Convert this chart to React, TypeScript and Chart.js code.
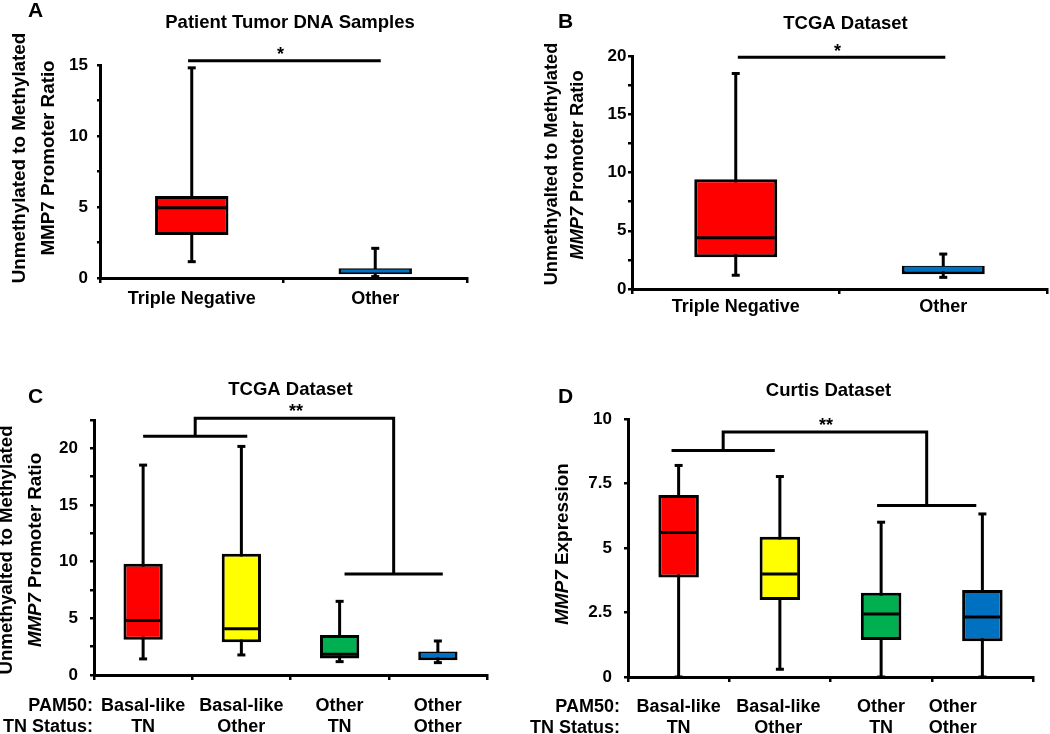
import React, { useEffect, useRef } from "react";
import { Chart, registerables } from "chart.js";
Chart.register(...registerables);

const FONT = "'Liberation Sans', Arial, Helvetica, sans-serif";

// ---------- Panel A: Patient Tumor DNA Samples ----------
const aCategories = ["Triple Negative", "Other"];
const aMin = [1.15, 0.1];
const aQ1 = [3.03, 0.26];
const aMedian = [4.95, 0.5];
const aQ3 = [5.77, 0.68];
const aMax = [14.8, 2.09];
const aYTickLabels = [0, 5, 10, 15];
const aSigSpan = [-0.02, 1.03];
const aSigLevel = 15.3;

// ---------- Panel B: TCGA Dataset ----------
const bCategories = ["Triple Negative", "Other"];
const bMin = [1.18, 1.0];
const bQ1 = [2.72, 1.26];
const bMedian = [4.4, 1.78];
const bQ3 = [9.42, 2.0];
const bMax = [18.5, 3.0];
const bYTickLabels = [0, 5, 10, 15, 20];
const bSigSpan = [0.01, 1.01];
const bSigLevel = 19.9;

// ---------- Panel C: TCGA Dataset (PAM50 x TN) ----------
const cPam50 = ["Basal-like", "Basal-like", "Other", "Other"];
const cTnStatus = ["TN", "Other", "TN", "Other"];
const cMin = [1.42, 1.77, 1.18, 1.09];
const cQ1 = [3.1, 2.9, 1.45, 1.3];
const cMedian = [4.81, 4.08, 1.83, 1.8];
const cQ3 = [9.81, 10.7, 3.54, 2.07];
const cMax = [18.52, 20.17, 6.5, 3.0];
const cYTickLabels = [0, 5, 10, 15, 20];
const cLeftSpan = [0, 1.06];
const cRightSpan = [2.05, 3.05];
const cBracketLevels = [21.06, 22.65, 8.92]; // left group, top, right group

// ---------- Panel D: Curtis Dataset ----------
const dPam50 = ["Basal-like", "Basal-like", "Other", "Other"];
const dTnStatus = ["TN", "Other", "TN", "Other"];
const dMin = [0, 0.3, 0, 0];
const dQ1 = [3.86, 2.98, 1.43, 1.39];
const dMedian = [5.6, 3.99, 2.44, 2.33];
const dQ3 = [7.05, 5.44, 3.27, 3.37];
const dMax = [8.2, 7.77, 6.0, 6.32];
const dYTickLabels = [0, 2.5, 5, 7.5, 10];
const dLeftSpan = [-0.07, 0.95];
const dRightSpan = [1.96, 2.94];
const dBracketLevels = [8.78, 9.5, 6.65];

// ---------- styles ----------
const RED = "#FF0000";
const YELLOW = "#FFFF00";
const GREEN = "#00B050";
const BLUE = "#0070C0";
const BLACK = "#000000";
const LW = 3;

type Seg = { t: string; i?: boolean };

interface PanelCfg {
  origin: [number, number];
  area: { left: number; right: number; top: number; bottom: number };
  letter: string;
  letterPos: [number, number];
  title: string;
  titlePos: [number, number];
  yTitle: { segs: Seg[]; x: number; y: number }[];
  yTitleSize: number;
  labels: string[];
  min: number[];
  q1: number[];
  med: number[];
  q3: number[];
  max: number[];
  fill: string[];
  medColor: string[];
  yMax: number;
  yStep: number;
  yLabelled: number[];
  yTickLen: number;
  yTickPad: number;
  xTickPad: number;
  xHeight: number;
  customX?: {
    rows: string[][];
    heads: string[];
    headRight: number;
    baselines: number[];
    shift: number[];
  };
  sig?: { span: number[]; level: number };
  bracket?: { left: number[]; right: number[]; levels: number[] };
}

const W = 525;
const H = 367;

const panels: PanelCfg[] = [
  {
    origin: [0, 0],
    area: { left: 100, right: 467, top: 65, bottom: 278 },
    letter: "A",
    letterPos: [28, 17],
    title: "Patient Tumor DNA Samples",
    titlePos: [290, 28],
    yTitle: [
      { segs: [{ t: "Unmethylated to Methylated" }], x: 20, y: 158 },
      { segs: [{ t: "MMP7 Promoter Ratio" }], x: 49, y: 158 },
    ],
    yTitleSize: 18.8,
    labels: aCategories,
    min: aMin,
    q1: aQ1,
    med: aMedian,
    q3: aQ3,
    max: aMax,
    fill: [RED, BLUE],
    medColor: [BLACK, BLUE],
    yMax: 15,
    yStep: 2.5,
    yLabelled: aYTickLabels,
    yTickLen: 3,
    yTickPad: 9,
    xTickPad: 5.5,
    xHeight: 60,
    sig: { span: aSigSpan, level: aSigLevel },
  },
  {
    origin: [525, 0],
    area: { left: 107, right: 522, top: 56, bottom: 289 },
    letter: "B",
    letterPos: [33, 28],
    title: "TCGA Dataset",
    titlePos: [320.5, 29],
    yTitle: [
      { segs: [{ t: "Unmethyalted to Methylated" }], x: 27, y: 164 },
      { segs: [{ t: "MMP7", i: true }, { t: " Promoter Ratio" }], x: 53, y: 165 },
    ],
    yTitleSize: 18.2,
    labels: bCategories,
    min: bMin,
    q1: bQ1,
    med: bMedian,
    q3: bQ3,
    max: bMax,
    fill: [RED, BLUE],
    medColor: [BLACK, BLUE],
    yMax: 20,
    yStep: 2.5,
    yLabelled: bYTickLabels,
    yTickLen: 4,
    yTickPad: 1.5,
    xTickPad: 2,
    xHeight: 60,
    sig: { span: bSigSpan, level: bSigLevel },
  },
  {
    origin: [0, 367],
    area: { left: 94, right: 487, top: 53, bottom: 308 },
    letter: "C",
    letterPos: [28, 36],
    title: "TCGA Dataset",
    titlePos: [290.5, 28],
    yTitle: [
      { segs: [{ t: "Unmethyalted to Methylated" }], x: 7, y: 183 },
      { segs: [{ t: "MMP7", i: true }, { t: " Promoter Ratio" }], x: 35.5, y: 183 },
    ],
    yTitleSize: 18.7,
    labels: cPam50.map((p, i) => p + " " + cTnStatus[i]),
    min: cMin,
    q1: cQ1,
    med: cMedian,
    q3: cQ3,
    max: cMax,
    fill: [RED, YELLOW, GREEN, BLUE],
    medColor: [BLACK, BLACK, BLACK, BLUE],
    yMax: 22.5,
    yStep: 2.5,
    yLabelled: cYTickLabels,
    yTickLen: 4,
    yTickPad: 12,
    xTickPad: 2,
    xHeight: 40,
    customX: {
      rows: [cPam50, cTnStatus],
      heads: ["PAM50:", "TN Status:"],
      headRight: 93,
      baselines: [344, 365],
      shift: [0, 0, 0, 0],
    },
    bracket: { left: cLeftSpan, right: cRightSpan, levels: cBracketLevels },
  },
  {
    origin: [525, 367],
    area: { left: 103, right: 508, top: 52, bottom: 310 },
    letter: "D",
    letterPos: [33, 36],
    title: "Curtis Dataset",
    titlePos: [303.5, 28.5],
    yTitle: [{ segs: [{ t: "MMP7", i: true }, { t: " Expression" }], x: 37.5, y: 177 }],
    yTitleSize: 18.9,
    labels: dPam50.map((p, i) => p + " " + dTnStatus[i]),
    min: dMin,
    q1: dQ1,
    med: dMedian,
    q3: dQ3,
    max: dMax,
    fill: [RED, YELLOW, GREEN, BLUE],
    medColor: [BLACK, BLACK, BLACK, BLACK],
    yMax: 10,
    yStep: 2.5,
    yLabelled: dYTickLabels,
    yTickLen: 4,
    yTickPad: 12,
    xTickPad: 2,
    xHeight: 40,
    customX: {
      rows: [dPam50, dTnStatus],
      heads: ["PAM50:", "TN Status:"],
      headRight: 95,
      baselines: [345, 366],
      shift: [0, -1.5, 0, -29.5],
    },
    bracket: { left: dLeftSpan, right: dRightSpan, levels: dBracketLevels },
  },
];

function fontStr(size: number, italic?: boolean) {
  return `${italic ? "italic " : ""}bold ${size}px ${FONT}`;
}

function drawSegs(ctx: CanvasRenderingContext2D, segs: Seg[], cx: number, cy: number, size: number, rotate: boolean) {
  ctx.save();
  ctx.translate(cx, cy);
  if (rotate) ctx.rotate(-Math.PI / 2);
  let total = 0;
  const widths = segs.map((s) => {
    ctx.font = fontStr(size, s.i);
    const w = ctx.measureText(s.t).width;
    total += w;
    return w;
  });
  let x = -total / 2;
  ctx.textBaseline = "middle";
  ctx.textAlign = "left";
  ctx.fillStyle = BLACK;
  segs.forEach((s, i) => {
    ctx.font = fontStr(size, s.i);
    ctx.fillText(s.t, x, 0);
    x += widths[i];
  });
  ctx.restore();
}

function line(ctx: CanvasRenderingContext2D, x1: number, y1: number, x2: number, y2: number) {
  ctx.beginPath();
  ctx.moveTo(x1, y1);
  ctx.lineTo(x2, y2);
  ctx.stroke();
}

function makePlugin(cfg: PanelCfg) {
  return {
    id: "boxDecor",
    beforeDatasetsDraw(chart: any) {
      const ctx: CanvasRenderingContext2D = chart.ctx;
      const xs = chart.scales.x;
      const ys = chart.scales.y;
      ctx.save();
      ctx.strokeStyle = BLACK;
      cfg.labels.forEach((_, i) => {
        const px = xs.getPixelForValue(i);
        const yTop = ys.getPixelForValue(cfg.max[i]);
        const yBot = ys.getPixelForValue(cfg.min[i]);
        ctx.lineWidth = LW;
        line(ctx, px, yTop, px, yBot);
        ctx.lineWidth = 3;
        line(ctx, px - 4, yTop, px + 4, yTop);
        line(ctx, px - 4, yBot, px + 4, yBot);
      });
      ctx.restore();
    },
    afterDatasetsDraw(chart: any) {
      const ctx: CanvasRenderingContext2D = chart.ctx;
      const ys = chart.scales.y;
      const meta = chart.getDatasetMeta(0);
      ctx.save();
      ctx.lineWidth = LW;
      meta.data.forEach((el: any, i: number) => {
        const py = ys.getPixelForValue(cfg.med[i]);
        ctx.strokeStyle = cfg.medColor[i];
        line(ctx, el.x - el.width / 2 + 2.5, py, el.x + el.width / 2 - 2.5, py);
      });
      ctx.restore();
    },
    afterDraw(chart: any) {
      const ctx: CanvasRenderingContext2D = chart.ctx;
      const xs = chart.scales.x;
      const ys = chart.scales.y;
      ctx.save();
      ctx.fillStyle = BLACK;
      ctx.strokeStyle = BLACK;
      // panel letter
      ctx.font = fontStr(21);
      ctx.textAlign = "left";
      ctx.textBaseline = "alphabetic";
      ctx.fillText(cfg.letter, cfg.letterPos[0], cfg.letterPos[1]);
      // title
      ctx.font = fontStr(18.5);
      ctx.textAlign = "center";
      ctx.fillText(cfg.title, cfg.titlePos[0], cfg.titlePos[1]);
      // y titles
      cfg.yTitle.forEach((l) => drawSegs(ctx, l.segs, l.x, l.y, cfg.yTitleSize, true));
      // custom x labels
      if (cfg.customX) {
        const cx = cfg.customX;
        ctx.font = fontStr(18);
        ctx.textBaseline = "alphabetic";
        cx.heads.forEach((h, r) => {
          ctx.textAlign = "right";
          ctx.fillText(h, cx.headRight, cx.baselines[r]);
        });
        cx.rows.forEach((row, r) => {
          row.forEach((txt, i) => {
            ctx.textAlign = "center";
            ctx.fillText(txt, xs.getPixelForValue(i) + cx.shift[i], cx.baselines[r]);
          });
        });
      }
      ctx.lineWidth = LW;
      ctx.lineCap = "butt";
      ctx.font = fontStr(18);
      ctx.textAlign = "center";
      ctx.textBaseline = "alphabetic";
      if (cfg.sig) {
        const py = ys.getPixelForValue(cfg.sig.level);
        const x1 = xs.getPixelForValue(cfg.sig.span[0]);
        const x2 = xs.getPixelForValue(cfg.sig.span[1]);
        line(ctx, x1, py, x2, py);
        ctx.fillText("*", (x1 + x2) / 2 - 4, py - 0.5);
      }
      if (cfg.bracket) {
        const b = cfg.bracket;
        const yl = ys.getPixelForValue(b.levels[0]);
        const yt = ys.getPixelForValue(b.levels[1]);
        const yr = ys.getPixelForValue(b.levels[2]);
        const l1 = xs.getPixelForValue(b.left[0]);
        const l2 = xs.getPixelForValue(b.left[1]);
        const r1 = xs.getPixelForValue(b.right[0]);
        const r2 = xs.getPixelForValue(b.right[1]);
        const lm = xs.getPixelForValue((b.left[0] + b.left[1]) / 2);
        const rm = xs.getPixelForValue((b.right[0] + b.right[1]) / 2);
        line(ctx, l1, yl, l2, yl);
        line(ctx, r1, yr, r2, yr);
        ctx.beginPath();
        ctx.moveTo(lm, yl);
        ctx.lineTo(lm, yt);
        ctx.lineTo(rm, yt);
        ctx.lineTo(rm, yr);
        ctx.stroke();
        const mid = xs.getPixelForValue((b.left[1] + b.right[0]) / 2);
        ctx.fillText("**", mid, yt - 1);
      }
      ctx.restore();
    },
  };
}

function buildChart(canvas: HTMLCanvasElement, cfg: PanelCfg) {
  const yW = 40;
  const padding = {
    left: cfg.area.left - yW,
    top: cfg.area.top,
    right: W - cfg.area.right,
    bottom: H - cfg.area.bottom - cfg.xHeight,
  };
  return new Chart(canvas, {
    type: "bar",
    data: {
      labels: cfg.labels,
      datasets: [
        {
          data: cfg.q1.map((v, i) => [v, cfg.q3[i]]) as any,
          backgroundColor: cfg.fill,
          borderColor: BLACK,
          borderWidth: LW,
          borderSkipped: false,
          barPercentage: 0.4,
          categoryPercentage: 1,
        },
      ],
    },
    options: {
      responsive: false,
      animation: false,
      events: [],
      layout: { padding },
      plugins: {
        legend: { display: false },
        tooltip: { enabled: false },
        title: { display: false },
      },
      scales: {
        x: {
          type: "category",
          offset: true,
          grid: {
            display: true,
            offset: true,
            drawOnChartArea: false,
            drawTicks: true,
            tickLength: 5,
            color: BLACK,
            lineWidth: 2.5,
          },
          border: { display: true, color: BLACK, width: LW },
          ticks: {
            color: BLACK,
            font: { family: FONT, size: 18, weight: "bold" },
            padding: cfg.xTickPad,
            maxRotation: 0,
            autoSkip: false,
            callback: cfg.customX ? () => "" : (_v: any, i: number) => cfg.labels[i],
          },
          afterFit: (s: any) => {
            s.height = cfg.xHeight;
          },
        } as any,
        y: {
          type: "linear",
          min: 0,
          max: cfg.yMax,
          grid: {
            display: true,
            drawOnChartArea: false,
            drawTicks: true,
            tickLength: cfg.yTickLen,
            color: BLACK,
            lineWidth: 2.5,
          },
          border: { display: true, color: BLACK, width: LW },
          ticks: {
            stepSize: cfg.yStep,
            color: BLACK,
            font: { family: FONT, size: 17, weight: "bold" },
            padding: cfg.yTickPad,
            autoSkip: false,
            callback: (v: any) => (cfg.yLabelled.includes(Number(v)) ? String(v) : ""),
          },
          afterFit: (s: any) => {
            s.width = yW;
          },
        } as any,
      },
    },
    plugins: [makePlugin(cfg)],
  });
}

export default function App() {
  const refs = useRef<(HTMLCanvasElement | null)[]>([]);
  useEffect(() => {
    const charts = panels.map((p, i) => buildChart(refs.current[i] as HTMLCanvasElement, p));
    return () => charts.forEach((c) => c.destroy());
  }, []);
  return (
    <div style={{ position: "absolute", left: 0, top: 0, width: 1050, height: 734, background: "#fff", overflow: "hidden" }}>
      {panels.map((p, i) => (
        <canvas
          key={i}
          ref={(el) => {
            refs.current[i] = el;
          }}
          width={W}
          height={H}
          style={{ position: "absolute", left: p.origin[0], top: p.origin[1], width: W, height: H }}
        />
      ))}
    </div>
  );
}
